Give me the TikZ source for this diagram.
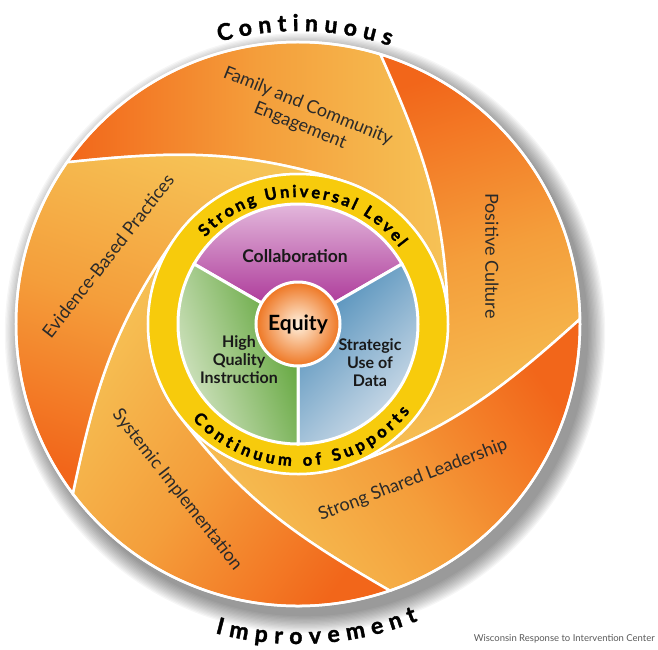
\documentclass[tikz,border=0pt]{standalone}
\usepackage{fontspec}
\setmainfont{Lato}
\newfontfamily\heavyfont{Lato}[BoldFeatures={FakeBold=1.6}]
\usetikzlibrary{decorations.text}

\definecolor{bladedark}{HTML}{F2661A}
\definecolor{blademid}{HTML}{F49E3B}
\definecolor{bladelight}{HTML}{F6C356}
\definecolor{ringyellow}{HTML}{F7CB0C}
\definecolor{collabdeep}{HTML}{A3228D}
\definecolor{collablight}{HTML}{ECCDE7}
\definecolor{datadeep}{HTML}{4A8BB8}
\definecolor{datalight}{HTML}{D5E0EB}
\definecolor{instrdeep}{HTML}{5AA233}
\definecolor{instrlight}{HTML}{E4EDD7}
\definecolor{equitylight}{HTML}{FFF1DE}
\definecolor{equitydeep}{HTML}{EE7521}
\definecolor{labelgray}{HTML}{2A2A2A}

\tikzset{
  whiteline/.style={draw=white, line width=2.5pt},
  bladelabel/.style={text=labelgray, font=\fontsize{18}{21}\selectfont, align=center, inner sep=0pt},
  slicelabel/.style={text=black!90, font=\bfseries\fontsize{16}{18}\selectfont, align=center, inner sep=0pt},
  arctext/.style={decorate, decoration={text along path, text align={fit to path}, text color=black}}
}

\begin{document}
\begin{tikzpicture}[x=1pt, y=1pt]
  \useasboundingbox (-298,-325) rectangle (360,324);

  % soft shadow behind the disc
  \foreach \r in {1,...,14}
    \fill[black, opacity=0.035] (7,-9) circle (282+\r*1.3);
  \fill[white] (0,0) circle (282);

  % five pinwheel blades
  \foreach \k [evaluate=\k as \a using 73-72*\k] in {0,...,4}{
    \pgfmathsetmacro{\ahi}{\a+72}
    \pgfmathsetmacro{\alo}{\a-72}
    \pgfmathsetmacro{\oa}{\a-67}
    \pgfmathsetmacro{\ia}{\a+90}
    \pgfmathsetmacro{\ob}{\a+18}
    \pgfmathsetmacro{\ib}{\a-139}
    \pgfmathsetmacro{\sa}{\a+17}
    \path[whiteline, top color=bladedark, bottom color=bladelight, middle color=blademid, shading angle=\sa]
      (\a:282) arc[start angle=\a, end angle=\ahi, radius=282]
      to[out=\oa, in=\ia] (\a:150)
      arc[start angle=\a, end angle=\alo, radius=150]
      to[out=\ob, in=\ib] (\a:282) -- cycle;
  }
  \draw[whiteline] (0,0) circle (282);

  % blade labels
  \node[bladelabel, rotate=-22] (family) at (6,208) {Family and Community\\Engagement};
  \node[bladelabel, rotate=-90] (culture) at (194,68) {Positive Culture};
  \node[bladelabel, rotate=21] (leader) at (115,-156) {Strong Shared Leadership};
  \node[bladelabel, rotate=-52] (systemic) at (-121,-166) {Systemic Implementation};
  \node[bladelabel, rotate=52] (evidence) at (-190,68) {Evidence-Based Practices};

  % yellow ring
  \draw[whiteline, fill=ringyellow] (0,0) circle (150);
  \path[arctext, decoration={text={|\heavyfont\bfseries\fontsize{16.5}{16.5}\selectfont|Strong Universal Level}}]
    (137:127) arc[start angle=137, end angle=37, radius=127];
  \path[arctext, decoration={text={|\heavyfont\bfseries\fontsize{16.5}{16.5}\selectfont|Continuum of Supports}}]
    (-138:142) arc[start angle=-138, end angle=-38, radius=142];

  % three slices
  \path[whiteline, line width=3pt, top color=collablight, bottom color=collabdeep]
    (0,0) -- (30:120) arc[start angle=30, end angle=150, radius=120] -- cycle;
  \path[whiteline, line width=3pt, top color=datadeep, bottom color=datalight, shading angle=45]
    (0,0) -- (-90:120) arc[start angle=-90, end angle=30, radius=120] -- cycle;
  \path[whiteline, line width=3pt, top color=instrlight, bottom color=instrdeep, shading angle=110]
    (0,0) -- (150:120) arc[start angle=150, end angle=270, radius=120] -- cycle;

  \node[slicelabel, font=\bfseries\fontsize{17.5}{17.5}\selectfont] (collab) at (-3,68) {Collaboration};
  \node[slicelabel] (instr) at (-59,-36) {High\\Quality\\Instruction};
  \node[slicelabel] (data) at (72,-39) {Strategic\\Use of\\Data};

  \node[circle, minimum size=84pt, inner sep=0pt, draw=white, line width=3pt,
        inner color=equitylight, outer color=equitydeep,
        font=\bfseries\fontsize{21}{21}\selectfont] (equity) at (0,0) {Equity};

  % outer words
  \path[arctext, decoration={text={|\heavyfont\bfseries\fontsize{23}{23}\selectfont|Continuous}}]
    (105.6:293) arc[start angle=105.6, end angle=71.7, radius=293];
  \path[arctext, decoration={text={|\heavyfont\bfseries\fontsize{23}{23}\selectfont|Improvement}}]
    (-105:320) arc[start angle=-105, end angle=-68, radius=320];

  \node[anchor=east, inner sep=0pt, text=black!65, font=\fontsize{9.5}{10}\selectfont] (credit) at (357,-315) {Wisconsin Response to Intervention Center};
\end{tikzpicture}
\end{document}
